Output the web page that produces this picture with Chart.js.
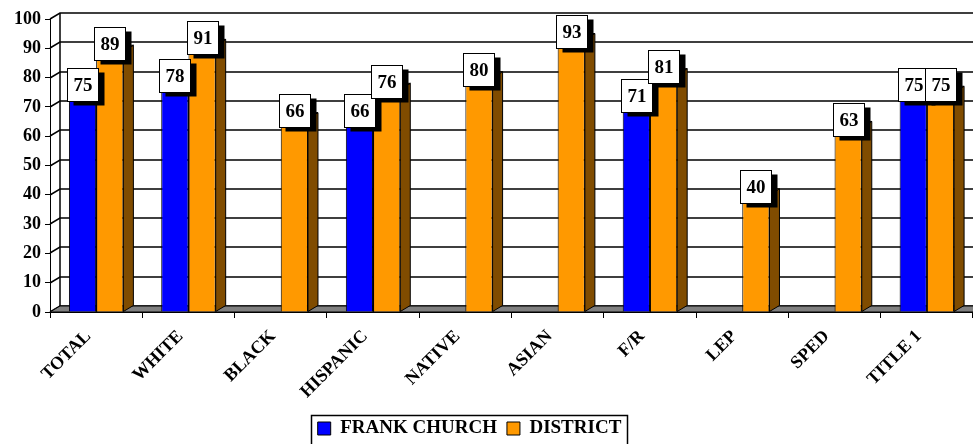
<!DOCTYPE html>
<html>
<head>
<meta charset="utf-8">
<script src="https://cdn.jsdelivr.net/npm/chart.js@4.4.1/dist/chart.umd.min.js"></script>
<style>
html, body { margin: 0; padding: 0; background: #fff; }
</style>
</head>
<body>
<canvas id="chart" width="973" height="444"></canvas>
<script>
var categories = ['TOTAL', 'WHITE', 'BLACK', 'HISPANIC', 'NATIVE', 'ASIAN', 'F/R', 'LEP', 'SPED', 'TITLE 1'];
var frankChurch = [75, 78, null, 66, null, null, 71, null, null, 75];
var district = [89, 91, 66, 76, 80, 93, 81, 40, 63, 75];
var seriesNames = ['FRANK CHURCH', 'DISTRICT'];

var FONT = '"Liberation Serif", "Times New Roman", serif';
var DX = 10, DY = 6;
var LEGEND_SHIFT_X = -17, LEGEND_SHIFT_Y = 4;

// back wall, left wall, floor, and the side/top faces of the bars
// (faces go first so the front faces of the next series cover them)
var wallPlugin = {
  id: 'walls',
  beforeDatasetsDraw: function(chart) {
    var ctx = chart.ctx, a = chart.chartArea, y = chart.scales.y;
    ctx.save();
    ctx.strokeStyle = '#000';
    ctx.lineWidth = 1.5;
    y.ticks.forEach(function(t) {
      var py = Math.round(y.getPixelForValue(t.value));
      ctx.beginPath();
      ctx.moveTo(a.left, py);
      ctx.lineTo(a.left + DX, py - DY);
      ctx.lineTo(a.right + DX, py - DY);
      ctx.stroke();
    });
    ctx.beginPath();
    ctx.moveTo(a.left + DX, a.top - DY);
    ctx.lineTo(a.left + DX, a.bottom - DY);
    ctx.stroke();
    ctx.lineWidth = 1;
    ctx.fillStyle = '#808080';
    ctx.beginPath();
    ctx.moveTo(a.left, a.bottom);
    ctx.lineTo(a.left + DX, a.bottom - DY);
    ctx.lineTo(a.right + DX, a.bottom - DY);
    ctx.lineTo(a.right, a.bottom);
    ctx.closePath();
    ctx.fill();
    ctx.stroke();

    chart.data.datasets.forEach(function(ds, di) {
      chart.getDatasetMeta(di).data.forEach(function(bar, i) {
        if (ds.data[i] == null) return;
        var p = bar.getProps(['x', 'y', 'base', 'width'], true);
        var l = p.x - p.width / 2, r = p.x + p.width / 2;
        ctx.fillStyle = ds.sideColor;
        ctx.beginPath();
        ctx.moveTo(r, p.y);
        ctx.lineTo(r + DX, p.y - DY);
        ctx.lineTo(r + DX, p.base - DY);
        ctx.lineTo(r, p.base);
        ctx.closePath();
        ctx.fill();
        ctx.stroke();
        ctx.fillStyle = ds.backgroundColor;
        ctx.beginPath();
        ctx.moveTo(l, p.y);
        ctx.lineTo(l + DX, p.y - DY);
        ctx.lineTo(r + DX, p.y - DY);
        ctx.lineTo(r, p.y);
        ctx.closePath();
        ctx.fill();
        ctx.stroke();
      });
    });
    ctx.restore();
  }
};

// white value boxes with a black shadow
var labelPlugin = {
  id: 'valueBoxes',
  afterDatasetsDraw: function(chart) {
    var ctx = chart.ctx;
    ctx.save();
    ctx.font = 'bold 19px ' + FONT;
    ctx.textAlign = 'center';
    ctx.textBaseline = 'middle';
    chart.data.datasets.forEach(function(ds, di) {
      var meta = chart.getDatasetMeta(di);
      meta.data.forEach(function(bar, i) {
        var v = ds.data[i];
        if (v == null) return;
        var cx = bar.x, cy = bar.y - 8;
        var w = 31, h = 33;
        var x0 = Math.round(cx - w / 2) + 0.5, y0 = Math.round(cy - h / 2) + 0.5;
        ctx.fillStyle = '#000';
        ctx.fillRect(x0 + 6, y0 + 4, w, h);
        ctx.fillStyle = '#fff';
        ctx.fillRect(x0, y0, w, h);
        ctx.strokeStyle = '#000';
        ctx.lineWidth = 1;
        ctx.strokeRect(x0, y0, w, h);
        ctx.fillStyle = '#000';
        ctx.fillText(String(v), x0 + w / 2, y0 + h / 2 + 1);
      });
    });
    ctx.restore();
  }
};

var legendBox = {
  id: 'legendBox',
  afterLayout: function(chart) {
    var lg = chart.legend;
    if (!lg) return;
    lg.left += LEGEND_SHIFT_X;
    lg.right += LEGEND_SHIFT_X;
    lg.top += LEGEND_SHIFT_Y;
    lg.bottom += LEGEND_SHIFT_Y;
    lg.legendHitBoxes.forEach(function(hb) {
      hb.left += LEGEND_SHIFT_X;
      hb.top += LEGEND_SHIFT_Y;
    });
  },
  afterDraw: function(chart) {
    var lg = chart.legend;
    if (!lg || !lg.legendHitBoxes.length) return;
    var hb = lg.legendHitBoxes;
    var l = hb[0].left, r = hb[hb.length - 1].left + hb[hb.length - 1].width;
    var t = hb[0].top;
    var ctx = chart.ctx;
    ctx.save();
    ctx.strokeStyle = '#000';
    ctx.lineWidth = 1.5;
    ctx.strokeRect(Math.round(l - 7) + 0.5, Math.round(t - 8) + 0.5, Math.round(r - l + 12), 40);
    ctx.restore();
  }
};

new Chart(document.getElementById('chart'), {
  type: 'bar',
  data: {
    labels: categories,
    datasets: [{
      label: seriesNames[0],
      data: frankChurch,
      backgroundColor: '#0000FF',
      sideColor: '#000080',
      borderColor: '#000',
      borderWidth: 1
    }, {
      label: seriesNames[1],
      data: district,
      backgroundColor: '#FF9900',
      sideColor: '#804C00',
      borderColor: '#000',
      borderWidth: 1
    }]
  },
  options: {
    responsive: false,
    animation: false,
    layout: { padding: { top: 19, right: 0, left: 0, bottom: 0 } },
    categoryPercentage: 0.59,
    barPercentage: 1,
    plugins: {
      legend: {
        position: 'bottom',
        labels: {
          boxWidth: 13,
          boxHeight: 13,
          color: '#000',
          padding: 10,
          font: { family: FONT, size: 19, weight: 'bold' }
        }
      },
      tooltip: { enabled: false }
    },
    scales: {
      x: {
        grid: { drawOnChartArea: false, color: '#000', tickLength: 6 },
        border: { color: '#000' },
        ticks: {
          color: '#000',
          minRotation: 45,
          maxRotation: 45,
          padding: 8,
          labelOffset: -8,
          font: { family: FONT, size: 18, weight: 'bold' }
        },
        afterFit: function(scale) {
          var lh = scale.chart.legend ? scale.chart.legend.height : 40;
          scale.height = 444 - 312 - lh;
        }
      },
      y: {
        min: 0,
        max: 100,
        grid: { drawOnChartArea: false, color: '#000', tickLength: 5 },
        border: { color: '#000' },
        ticks: {
          stepSize: 10,
          color: '#000',
          padding: 4,
          font: { family: FONT, size: 18, weight: 'bold' }
        },
        afterFit: function(scale) { scale.width = 50; }
      }
    }
  },
  plugins: [wallPlugin, labelPlugin, legendBox]
});
</script>
</body>
</html>
